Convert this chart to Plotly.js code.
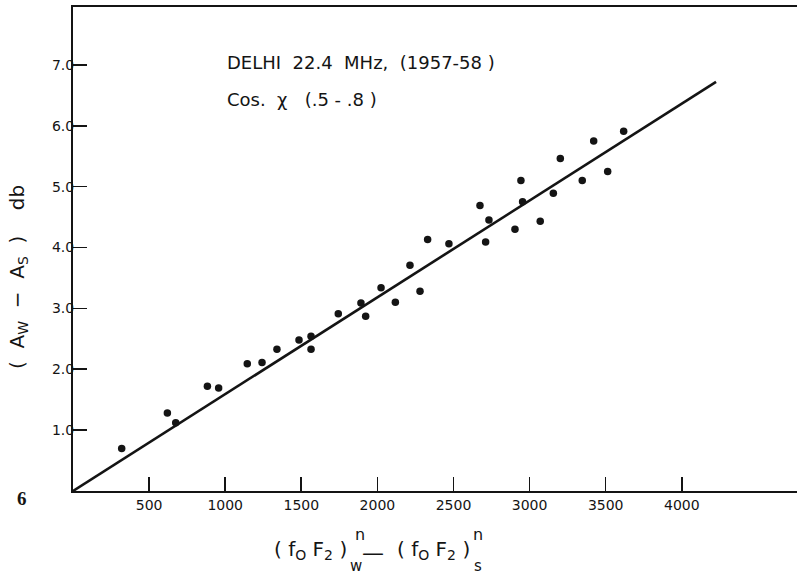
<!DOCTYPE html>
<html>
<head>
<meta charset="utf-8">
<script src="https://cdn.plot.ly/plotly-3.0.1.min.js"></script>
<style>html,body{margin:0;padding:0;background:#fff;}#chart{width:797px;height:576px;}</style>
</head>
<body>
<div id="chart"></div>
<script>
// Observed points: (foF2)^n_w - (foF2)^n_s  vs  (Aw - As) db
const diffF = [320, 620, 675, 883, 957, 1145, 1242, 1340, 1485, 1564, 1564, 1743, 1892, 1923, 2024, 2118, 2214, 2280,
               2330, 2470, 2674, 2711, 2733, 2904, 2943, 2954, 3070, 3156, 3202, 3346, 3421, 3513, 3618];
const diffA = [0.70, 1.28, 1.12, 1.72, 1.69, 2.09, 2.11, 2.33, 2.48, 2.54, 2.33, 2.91, 3.09, 2.87, 3.34, 3.10, 3.71, 3.28,
               4.13, 4.06, 4.69, 4.09, 4.45, 4.30, 5.10, 4.75, 4.43, 4.89, 5.46, 5.10, 5.75, 5.25, 5.91];
// Fitted straight line (end points)
const fitX = [0, 4225];
const fitY = [0, 6.72];
// Ticks
const xTickVals = [500, 1000, 1500, 2000, 2500, 3000, 3500, 4000];
const xTickText = ['500', '1000', '1500', '2000', '2500', '3000', '3500', '4000'];
const yTickVals = [1, 2, 3, 4, 5, 6, 7];
const yTickText = ['1.0', '2.0', '3.0', '4.0', '5.0', '6.0', '7.0'];

const W = 797, H = 576, L = 73, R = 0, T = 7, B = 85;
const pw = W - L - R, ph = H - T - B;
const px = v => (v - L) / pw;
const py = v => (H - B - v) / ph;
const FONT = 'DejaVu Sans, sans-serif';
const INK = '#141414';

const traces = [
  {x: fitX, y: fitY, type: 'scatter', mode: 'lines', line: {color: INK, width: 2.6}, hoverinfo: 'skip'},
  {x: diffF, y: diffA, type: 'scatter', mode: 'markers', marker: {color: INK, size: 7.5}}
];

const ann = (text, x, y, opts) => Object.assign({text: text, xref: 'paper', yref: 'paper', x: px(x), y: py(y),
  showarrow: false, xanchor: 'center', yanchor: 'middle', font: {family: FONT, size: 16, color: INK}}, opts || {});

const layout = {
  width: W, height: H,
  margin: {l: L, r: R, t: T, b: B, pad: 0},
  paper_bgcolor: '#fff', plot_bgcolor: '#fff',
  showlegend: false,
  xaxis: {range: [0, 4757], showgrid: false, zeroline: false, showline: true, linecolor: INK, linewidth: 2,
          mirror: true, ticks: 'inside', ticklen: 14, tickwidth: 1.6, tickcolor: INK,
          tickvals: xTickVals, ticktext: xTickText, tickfont: {family: FONT, size: 14, color: INK}},
  yaxis: {range: [0, 7.95], showgrid: false, zeroline: false, showline: true, linecolor: INK, linewidth: 2,
          ticks: 'inside', ticklen: 14, tickwidth: 1.6, tickcolor: INK, ticklabelstandoff: -6,
          tickvals: yTickVals, ticktext: yTickText, tickfont: {family: FONT, size: 14, color: INK}},
  annotations: [
    ann('DELHI  22.4  MHz,  (1957-58 )', 225, 62, {xanchor: 'left', font: {family: FONT, size: 18, color: INK}}),
    ann('Cos.  χ   (.5 - .8 )', 225, 100, {xanchor: 'left', font: {family: FONT, size: 18, color: INK}}),
    ann('(  A<sub>W</sub>  −  A<sub>S</sub>  )    db', 18, 277, {textangle: -90, font: {family: FONT, size: 20, color: INK}}),
    ann('( f<sub>O</sub> F<sub>2</sub> )', 310, 550, {font: {family: FONT, size: 20, color: INK}}),
    ann('n', 360, 534, {font: {family: FONT, size: 16, color: INK}}),
    ann('w', 356, 566, {font: {family: FONT, size: 15, color: INK}}),
    ann('—', 373, 552, {font: {family: FONT, size: 22, color: INK}}),
    ann('( f<sub>O</sub> F<sub>2</sub> )', 433, 550, {font: {family: FONT, size: 20, color: INK}}),
    ann('n', 478, 534, {font: {family: FONT, size: 16, color: INK}}),
    ann('s', 478, 566, {font: {family: FONT, size: 15, color: INK}}),
    ann('<b>6</b>', 22, 498, {font: {family: 'Liberation Serif, serif', size: 19, color: INK}})
  ]
};

Plotly.newPlot('chart', traces, layout, {displayModeBar: false, staticPlot: true});
</script>
</body>
</html>
